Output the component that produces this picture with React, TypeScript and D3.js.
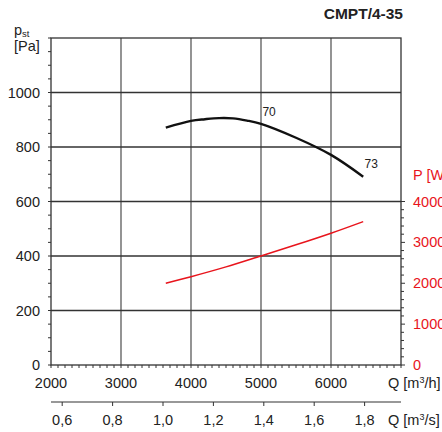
import React from 'react';
import * as d3 from 'd3';

// values
const pressureFlow = [3640, 4000, 4200, 4400, 4600, 4800, 5000, 5500, 6000, 6460];
const pressureValues = [871, 896, 902, 906, 905, 897, 885, 834, 771, 691];
const powerFlow = [3640, 4000, 4500, 5000, 5500, 6000, 6460];
const powerValues = [2000, 2160, 2400, 2668, 2940, 3224, 3508];
const pressureTicks = [0, 200, 400, 600, 800, 1000];
const flowTicks = [2000, 3000, 4000, 5000, 6000];
const powerTicks = [0, 1000, 2000, 3000, 4000];
const flowSecTicks = [0.6, 0.8, 1.0, 1.2, 1.4, 1.6, 1.8];
const curveLabels = [
  { text: '70', q: 5020, p: 912 },
  { text: '73', q: 6480, p: 722 },
];

const W = 442;
const H = 432;
const left = 51;
const right = 401;
const top = 38;
const bottom = 365;
const font = '"Liberation Sans", Arial, sans-serif';
const txt = '#222';
const red = '#e8141c';

const App = () => {
  const x = d3.scaleLinear().domain([2000, 7000]).range([left, right]);
  const y = d3.scaleLinear().domain([0, 1200]).range([bottom, top]);
  // power axis: 4000 W sits on the 600 Pa line
  const yP = d3.scaleLinear().domain([0, 4000]).range([bottom, y(600)]);
  const xs = d3.scaleLinear().domain([2000 / 3600, 7000 / 3600]).range([left, right]);

  const pLine = d3
    .line<number>()
    .x((d, i) => x(pressureFlow[i]))
    .y(d => y(d))
    .curve(d3.curveCatmullRom);
  const wLine = d3
    .line<number>()
    .x((d, i) => x(powerFlow[i]))
    .y(d => yP(d))
    .curve(d3.curveCatmullRom);

  const minorY = d3.range(0, 1201, 50);
  const minorX = d3.range(2000, 7001, 100);
  const minorP = d3.range(0, 4001, 200);
  const gridX = [3000, 4000, 5000, 6000];
  const gridY = [200, 400, 600, 800, 1000];
  const secY = 402;

  return (
    <svg
      width={W}
      height={H}
      style={{ position: 'absolute', left: 0, top: 0, background: '#fff' }}
      fontFamily={font}
    >
      <text x={403} y={19} textAnchor="end" fontWeight="bold" fontSize={15.5} fill={txt}>
        CMPT/4-35
      </text>

      {/* grid */}
      {gridX.map(v => (
        <line key={'gx' + v} x1={x(v)} x2={x(v)} y1={top} y2={bottom} stroke="#666" strokeWidth={1.4} />
      ))}
      {gridY.map(v => (
        <line key={'gy' + v} x1={left} x2={right} y1={y(v)} y2={y(v)} stroke="#333" strokeWidth={1.3} />
      ))}
      <rect x={left} y={top} width={right - left} height={bottom - top} fill="none" stroke="#333" strokeWidth={1.3} />

      {/* left axis */}
      {minorY.map(v => (
        <line key={'my' + v} x1={left - 3} x2={left} y1={y(v)} y2={y(v)} stroke="#333" />
      ))}
      {pressureTicks.map(v => (
        <text key={'ly' + v} x={40} y={y(v)} dy="0.35em" textAnchor="end" fontSize={14.5} fill={txt}>
          {v}
        </text>
      ))}
      <text x={14} y={35} fontSize={14.5} fill={txt}>
        p<tspan fontSize={9.5} dy={2}>st</tspan>
      </text>
      <text x={14} y={51} fontSize={14.5} fill={txt}>[Pa]</text>

      {/* bottom axis m3/h */}
      {minorX.map(v => (
        <line key={'mx' + v} x1={x(v)} x2={x(v)} y1={bottom} y2={bottom + 3} stroke="#333" />
      ))}
      {flowTicks.map(v => (
        <text key={'lx' + v} x={x(v)} y={388} textAnchor="middle" fontSize={14.5} fill={txt}>
          {v}
        </text>
      ))}
      <text x={388} y={388} fontSize={14.5} fill={txt}>
        Q [m<tspan fontSize={9} dy={-5}>3</tspan><tspan dy={5}>/h]</tspan>
      </text>

      {/* second axis m3/s */}
      <line x1={left} x2={right} y1={secY} y2={secY} stroke="#333" strokeWidth={1.2} />
      {flowSecTicks.map(v => (
        <line key={'ts' + v} x1={xs(v)} x2={xs(v)} y1={secY} y2={secY + 4} stroke="#333" />
      ))}
      {flowSecTicks.map(v => (
        <text key={'ls' + v} x={xs(v)} y={425} textAnchor="middle" fontSize={14.5} fill={txt}>
          {v.toFixed(1).replace('.', ',')}
        </text>
      ))}
      <text x={388} y={425} fontSize={14.5} fill={txt}>
        Q [m<tspan fontSize={9} dy={-5}>3</tspan><tspan dy={5}>/s]</tspan>
      </text>

      {/* right axis P */}
      {minorP.map(v => (
        <line key={'mp' + v} x1={right} x2={right + (v % 1000 === 0 ? 4 : 3)} y1={yP(v)} y2={yP(v)} stroke="#333" />
      ))}
      {powerTicks.map(v => (
        <text key={'lp' + v} x={413} y={yP(v)} dy="0.35em" fontSize={14.5} fill={red}>
          {v}
        </text>
      ))}
      <text x={413} y={180} fontSize={14.5} fill={red}>P [W]</text>

      {/* curves */}
      <path d={pLine(pressureValues) || ''} fill="none" stroke="#111" strokeWidth={2.4} />
      <path d={wLine(powerValues) || ''} fill="none" stroke={red} strokeWidth={1.5} />
      {curveLabels.map(l => (
        <text key={l.text} x={x(l.q)} y={y(l.p)} fontSize={12} fill={txt}>
          {l.text}
        </text>
      ))}
    </svg>
  );
};

export default App;
